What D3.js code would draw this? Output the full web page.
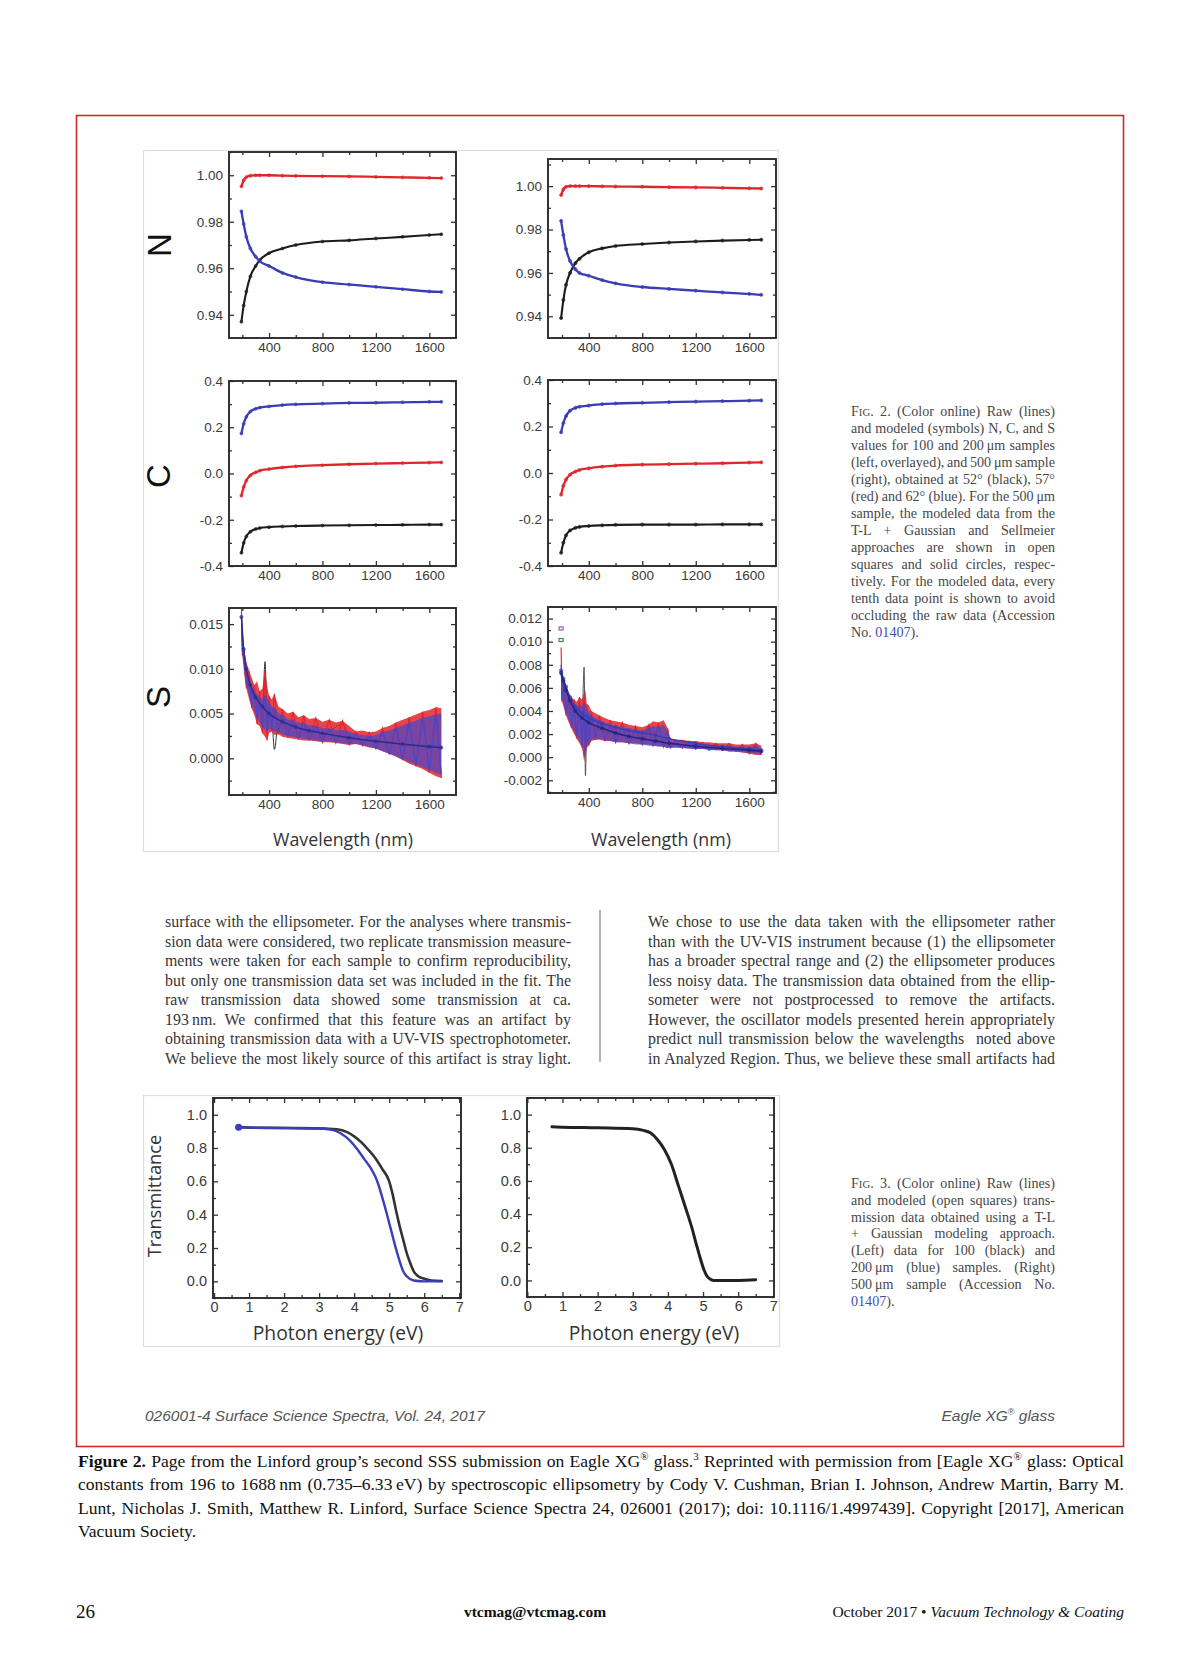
<!DOCTYPE html>
<html><head><meta charset="utf-8">
<script src="https://cdn.jsdelivr.net/npm/d3@7"></script>
<style>body{margin:0;background:#fff}svg{display:block}</style>
</head><body><svg id="c" width="1200" height="1657"></svg>
<script>
// ---------------- DATA ----------------
// wavelength grid (nm) for N and C curves
const wl = [193, 210, 230, 260, 300, 330, 400, 500, 600, 800, 1000, 1200, 1400, 1600, 1690];
// N, left (100 & 200 um overlayed)
const nLeftBlack = [0.937, 0.944, 0.950, 0.9565, 0.961, 0.9635, 0.9665, 0.9685, 0.970, 0.9715, 0.972, 0.9728, 0.9735, 0.9743, 0.9746];
const nLeftRed   = [0.9952, 0.9978, 0.9992, 0.9998, 1.000, 1.000, 1.000, 0.9998, 0.9997, 0.9996, 0.9995, 0.9993, 0.9991, 0.9989, 0.9988];
const nLeftBlue  = [0.9845, 0.979, 0.9735, 0.9685, 0.965, 0.963, 0.961, 0.958, 0.9562, 0.954, 0.953, 0.952, 0.951, 0.950, 0.9498];
// N, right (500 um)
const nRightBlack = [0.9392, 0.9475, 0.9545, 0.960, 0.9645, 0.9665, 0.9695, 0.9713, 0.9724, 0.9733, 0.974, 0.9745, 0.9749, 0.9752, 0.9753];
const nRightRed   = [0.9959, 0.9985, 0.9997, 1.000, 1.000, 1.000, 1.000, 0.9999, 0.9998, 0.9997, 0.9995, 0.9994, 0.9992, 0.999, 0.9989];
const nRightBlue  = [0.984, 0.9775, 0.971, 0.9655, 0.9617, 0.960, 0.9587, 0.9567, 0.9552, 0.9535, 0.9526, 0.9518, 0.951, 0.9503, 0.9499];
// C, left
const cLeftBlue  = [0.173, 0.215, 0.245, 0.268, 0.280, 0.285, 0.290, 0.296, 0.299, 0.302, 0.305, 0.306, 0.308, 0.310, 0.310];
const cLeftRed   = [-0.096, -0.058, -0.030, -0.008, 0.005, 0.012, 0.019, 0.026, 0.031, 0.036, 0.040, 0.043, 0.045, 0.047, 0.048];
const cLeftBlack = [-0.343, -0.300, -0.272, -0.252, -0.240, -0.236, -0.232, -0.229, -0.227, -0.225, -0.224, -0.223, -0.222, -0.221, -0.221];
// C, right
const cRightBlue  = [0.175, 0.215, 0.245, 0.268, 0.280, 0.285, 0.290, 0.296, 0.299, 0.302, 0.305, 0.307, 0.309, 0.311, 0.312];
const cRightRed   = [-0.093, -0.055, -0.028, -0.007, 0.006, 0.013, 0.020, 0.027, 0.032, 0.036, 0.038, 0.040, 0.042, 0.045, 0.046];
const cRightBlack = [-0.343, -0.300, -0.268, -0.247, -0.236, -0.232, -0.228, -0.225, -0.223, -0.222, -0.222, -0.222, -0.221, -0.221, -0.221];

// S, left: raw-data envelopes (noisy) and modeled curve
const sWlL = [193,200,215,230,250,270,290,310,330,350,370,385,400,420,440,470,500,540,580,620,660,700,750,800,850,900,950,1000,1050,1100,1150,1200,1250,1300,1350,1400,1450,1500,1550,1600,1650,1690];
const sLRedHi  = [0.0168,0.0150,0.0120,0.0108,0.0098,0.0090,0.0082,0.0086,0.0075,0.0078,0.0098,0.0082,0.0070,0.0066,0.0072,0.0058,0.0055,0.0050,0.0052,0.0046,0.0048,0.0044,0.0045,0.0041,0.0043,0.0040,0.0042,0.0036,0.0030,0.0031,0.0029,0.0030,0.0034,0.0036,0.0040,0.0043,0.0046,0.0049,0.0052,0.0054,0.0057,0.0056];
const sLRedLo  = [0.0140,0.0115,0.0092,0.0078,0.0066,0.0056,0.0048,0.0038,0.0036,0.0028,0.0024,0.0020,0.0028,0.0030,0.0026,0.0027,0.0024,0.0023,0.0022,0.0021,0.0020,0.0020,0.0019,0.0018,0.0018,0.0017,0.0016,0.0015,0.0016,0.0014,0.0012,0.0011,0.0008,0.0005,0.0002,-0.0002,-0.0006,-0.0009,-0.0012,-0.0016,-0.0020,-0.0022];
const sLBlueHi = [0.0160,0.0140,0.0112,0.0100,0.0090,0.0082,0.0075,0.0072,0.0068,0.0066,0.0070,0.0068,0.0062,0.0058,0.0056,0.0050,0.0048,0.0044,0.0042,0.0040,0.0039,0.0037,0.0036,0.0034,0.0033,0.0032,0.0031,0.0030,0.0027,0.0026,0.0025,0.0026,0.0029,0.0031,0.0034,0.0037,0.0040,0.0042,0.0045,0.0047,0.0049,0.0050];
const sLBlueLo = [0.0145,0.0120,0.0096,0.0082,0.0070,0.0060,0.0052,0.0045,0.0040,0.0035,0.0032,0.0030,0.0033,0.0032,0.0030,0.0029,0.0027,0.0025,0.0024,0.0023,0.0022,0.0021,0.0020,0.0019,0.0019,0.0018,0.0017,0.0016,0.0016,0.0015,0.0013,0.0011,0.0008,0.0005,0.0002,-0.0001,-0.0004,-0.0007,-0.0010,-0.0013,-0.0016,-0.0018];
const sLBlack  = [0.0160,0.0130,0.0105,0.0090,0.0080,0.0072,0.0066,0.0060,0.0056,0.0052,0.0108,0.0050,0.0046,0.0044,0.0010,0.0040,0.0038,0.0036,0.0034,0.0033,0.0031,0.0030,0.0029,0.0028,0.0030,0.0035,0.0038,0.0026,0.0022,0.0021,0.0020,0.0019,0.0018,0.0018,0.0017,0.0016,0.0016,0.0015,0.0015,0.0014,0.0014,0.0013];
const sModWlL = [193, 210, 230, 260, 300, 350, 400, 500, 600, 700, 800, 1000, 1200, 1400, 1600, 1690];
const sLModel = [0.0158, 0.0122, 0.0100, 0.0082, 0.0068, 0.0058, 0.0050, 0.0041, 0.0035, 0.0031, 0.0028, 0.0023, 0.0019, 0.0016, 0.0013, 0.0012];

// S, right
const sWlR = [193,200,215,230,250,270,290,310,330,350,365,375,385,400,420,450,480,520,560,600,650,700,750,800,850,880,920,960,990,1010,1050,1100,1150,1200,1250,1300,1350,1400,1450,1500,1550,1600,1650,1690];
const sRRedHi  = [0.0095,0.0072,0.0065,0.0060,0.0055,0.0052,0.0050,0.0048,0.0052,0.0050,0.0055,0.0058,0.0046,0.0045,0.0040,0.0038,0.0036,0.0034,0.0032,0.0031,0.0030,0.0028,0.0027,0.0026,0.0028,0.0031,0.0030,0.0032,0.0025,0.0016,0.0015,0.0015,0.0014,0.0014,0.0013,0.0013,0.0012,0.0012,0.0012,0.0011,0.0011,0.0011,0.0012,0.0010];
const sRRedLo  = [0.0050,0.0048,0.0042,0.0036,0.0030,0.0025,0.0020,0.0016,0.0012,0.0008,-0.0004,0.0002,0.0008,0.0010,0.0014,0.0015,0.0015,0.0014,0.0014,0.0013,0.0013,0.0012,0.0012,0.0011,0.0011,0.0010,0.0010,0.0009,0.0008,0.0009,0.0009,0.0008,0.0008,0.0007,0.0007,0.0007,0.0006,0.0006,0.0005,0.0005,0.0004,0.0003,0.0002,0.0002];
const sRBlueHi = [0.0080,0.0068,0.0060,0.0055,0.0050,0.0047,0.0045,0.0043,0.0045,0.0044,0.0046,0.0048,0.0040,0.0040,0.0036,0.0034,0.0032,0.0030,0.0028,0.0027,0.0026,0.0025,0.0024,0.0023,0.0025,0.0027,0.0026,0.0028,0.0022,0.0014,0.0013,0.0013,0.0012,0.0012,0.0011,0.0011,0.0010,0.0010,0.0010,0.0009,0.0009,0.0009,0.0010,0.0008];
const sRBlueLo = [0.0055,0.0050,0.0044,0.0038,0.0032,0.0027,0.0022,0.0018,0.0014,0.0010,0.0000,0.0004,0.0010,0.0012,0.0015,0.0016,0.0016,0.0015,0.0014,0.0013,0.0013,0.0012,0.0011,0.0011,0.0010,0.0010,0.0009,0.0009,0.0008,0.0008,0.0008,0.0008,0.0007,0.0007,0.0007,0.0006,0.0006,0.0006,0.0005,0.0005,0.0004,0.0004,0.0003,0.0003];
const sRBlack  = [0.0072,0.0065,0.0058,0.0052,0.0046,0.0042,0.0039,0.0036,0.0034,0.0033,0.0078,-0.0016,0.0030,0.0029,0.0027,0.0025,0.0024,0.0022,0.0021,0.0020,0.0019,0.0018,0.0017,0.0016,0.0028,0.0012,0.0015,0.0014,0.0013,0.0012,0.0012,0.0011,0.0011,0.0010,0.0010,0.0009,0.0009,0.0008,0.0008,0.0008,0.0007,0.0007,0.0007,0.0006];
const sModWlR = [193, 210, 230, 260, 300, 350, 400, 500, 600, 700, 800, 900, 1000, 1200, 1400, 1600, 1690];
const sRSellmeier = [0.0073, 0.0066, 0.0058, 0.0049, 0.0040, 0.0034, 0.0030, 0.0025, 0.0021, 0.0018, 0.0016, 0.0014, 0.0012, 0.00095, 0.00075, 0.0006, 0.0005];
const sRTLG       = [0.0075, 0.0068, 0.0061, 0.0052, 0.0044, 0.0038, 0.0034, 0.0029, 0.0026, 0.0023, 0.0021, 0.0019, 0.0016, 0.0012, 0.0009, 0.0007, 0.0006];
const sROutliers = [[193, 0.0111, "#9a5aa8"], [193, 0.0101, "#3d8a5a"]];

// Transmittance
const tEnK = [0.7, 1.0, 2.0, 3.0, 3.5, 3.8, 4.0, 4.2, 4.4, 4.6, 4.8, 5.0, 5.1, 5.2, 5.3, 5.4, 5.5, 5.6, 5.7, 5.8, 6.0, 6.2, 6.5];
const tBlack100 = [0.925, 0.922, 0.920, 0.918, 0.912, 0.895, 0.870, 0.835, 0.790, 0.740, 0.675, 0.600, 0.520, 0.420, 0.330, 0.250, 0.170, 0.110, 0.060, 0.035, 0.015, 0.005, 0.002];
const tEnB = [0.7, 1.0, 2.0, 3.0, 3.3, 3.6, 3.9, 4.1, 4.3, 4.5, 4.6, 4.7, 4.8, 4.9, 5.0, 5.1, 5.2, 5.3, 5.4, 5.5, 5.7, 6.0, 6.5];
const tBlue200 = [0.925, 0.922, 0.920, 0.917, 0.912, 0.890, 0.840, 0.790, 0.730, 0.670, 0.630, 0.575, 0.505, 0.430, 0.350, 0.270, 0.190, 0.120, 0.060, 0.030, 0.005, 0.000, 0.000];
const tEnR = [0.7, 1.0, 2.0, 3.0, 3.3, 3.5, 3.7, 3.9, 4.1, 4.3, 4.5, 4.7, 4.8, 4.9, 5.0, 5.1, 5.2, 5.3, 5.5, 6.0, 6.5];
const tBlack500 = [0.926, 0.924, 0.920, 0.915, 0.905, 0.890, 0.850, 0.790, 0.700, 0.570, 0.440, 0.305, 0.225, 0.150, 0.080, 0.030, 0.008, 0.000, 0.000, 0.000, 0.004];

// Tick labels
const wlTicks = [400, 800, 1200, 1600], wlMinor = [200, 600, 1000, 1400];
const nTicks = [0.94, 0.96, 0.98, 1.00], nMinor = [0.95, 0.97, 0.99, 1.01];
const cTicks = [-0.4, -0.2, 0.0, 0.2, 0.4], cMinor = [-0.3, -0.1, 0.1, 0.3];
const sLTicks = [0.000, 0.005, 0.010, 0.015], sLMinor = [-0.0025, 0.0025, 0.0075, 0.0125];
const sRTicks = [-0.002, 0.000, 0.002, 0.004, 0.006, 0.008, 0.010, 0.012], sRMinor = [-0.003, -0.001, 0.001, 0.003, 0.005, 0.007, 0.009, 0.011];
const eTicks = [0, 1, 2, 3, 4, 5, 6, 7], eMinor = [0.5, 1.5, 2.5, 3.5, 4.5, 5.5, 6.5];
const tTicks = [0.0, 0.2, 0.4, 0.6, 0.8, 1.0], tMinor = [-0.1, 0.1, 0.3, 0.5, 0.7, 0.9, 1.1];

// ---------------- DRAW ----------------
const svg = d3.select('#c');
const RED = '#e0252b', BLUE = '#3a3cb4', BLACK = '#1c1c1c';
const SANS = "'Liberation Sans', Arial, sans-serif";
const SERIF = "'Liberation Serif', 'Times New Roman', serif";
const OPEN = "'Open Sans', 'Noto Sans', sans-serif";

svg.append('rect').attr('width', 1200).attr('height', 1657).attr('fill', '#fff');
svg.append('rect').attr('x', 76.5).attr('y', 115.5).attr('width', 1047).attr('height', 1331)
  .attr('fill', 'none').attr('stroke', '#cc2b2b').attr('stroke-width', 1.6);
svg.append('rect').attr('x', 143.5).attr('y', 150.5).attr('width', 635).attr('height', 701)
  .attr('fill', 'none').attr('stroke', '#dedede').attr('stroke-width', 1.2);
svg.append('rect').attr('x', 143.5).attr('y', 1095.5).attr('width', 636).attr('height', 251)
  .attr('fill', 'none').attr('stroke', '#dedede').attr('stroke-width', 1.2);

let clipN = 0;
function panel(o) {
  const x = d3.scaleLinear().domain(o.xd).range([o.x0, o.x1]);
  const y = d3.scaleLinear().domain(o.yd).range([o.y1, o.y0]);
  const id = 'clip' + (clipN++);
  svg.append('clipPath').attr('id', id).append('rect')
    .attr('x', o.x0).attr('y', o.y0).attr('width', o.x1 - o.x0).attr('height', o.y1 - o.y0);
  const g = svg.append('g').attr('clip-path', `url(#${id})`);
  const inX = v => v >= o.xd[0] - 1e-9 && v <= o.xd[1] + 1e-9;
  const inY = v => v >= o.yd[0] - 1e-9 && v <= o.yd[1] + 1e-9;
  const deco = svg.append('g');
  const fs = o.fs || 13.5;
  function ax(axis, tr, vals, size, fmt, pad) {
    const a = deco.append('g').attr('transform', tr)
      .call(axis.tickValues(vals).tickSize(-size).tickPadding(pad || 0).tickFormat(fmt || (() => '')));
    a.select('.domain').remove();
    a.selectAll('line').attr('stroke', '#333').attr('stroke-width', 1.3);
    a.attr('font-family', SANS).attr('font-size', fs);
    a.selectAll('text').attr('fill', '#3a3a3a');
    return a;
  }
  const xM = o.xT.filter(inX), xm = o.xm.filter(inX), yM = o.yT.filter(inY), ym = o.ym.filter(inY);
  ax(d3.axisBottom(x), `translate(0,${o.y1})`, xM, 5, o.xf, o.xpad || 4.5);
  ax(d3.axisBottom(x), `translate(0,${o.y1})`, xm, 3);
  ax(d3.axisTop(x), `translate(0,${o.y0})`, xM, 5);
  ax(d3.axisTop(x), `translate(0,${o.y0})`, xm, 3);
  ax(d3.axisLeft(y), `translate(${o.x0},0)`, yM, 5, o.yf, 6);
  ax(d3.axisLeft(y), `translate(${o.x0},0)`, ym, 3);
  ax(d3.axisRight(y), `translate(${o.x1},0)`, yM, 5);
  ax(d3.axisRight(y), `translate(${o.x1},0)`, ym, 3);
  deco.append('rect').attr('x', o.x0).attr('y', o.y0).attr('width', o.x1 - o.x0).attr('height', o.y1 - o.y0)
    .attr('fill', 'none').attr('stroke', '#2a2a2a').attr('stroke-width', 1.9);
  return { x, y, g };
}

function curve(p, xs, ys, color, w, dots, r) {
  const pts = xs.map((v, i) => [v, ys[i]]);
  p.g.append('path').datum(pts).attr('fill', 'none').attr('stroke', color).attr('stroke-width', w)
    .attr('stroke-linejoin', 'round').attr('stroke-linecap', 'round')
    .attr('d', d3.line().x(d => p.x(d[0])).y(d => p.y(d[1])).curve(d3.curveMonotoneX));
  if (dots) {
    p.g.selectAll(null).data(pts).enter().append('circle')
      .attr('cx', d => p.x(d[0])).attr('cy', d => p.y(d[1])).attr('r', r || 1.8)
      .attr('fill', color).attr('stroke', color).attr('stroke-width', 0.6).attr('fill-opacity', 0.6);
  }
}
function band(p, xs, lo, hi, color, op) {
  const pts = xs.map((v, i) => [v, lo[i], hi[i]]);
  p.g.append('path').datum(pts).attr('fill', color).attr('fill-opacity', op)
    .attr('d', d3.area().x(d => p.x(d[0])).y0(d => p.y(d[1])).y1(d => p.y(d[2])));
  // jagged raw trace zig-zagging between the envelope values
  const zz = pts.map((d, i) => [d[0], i % 2 ? d[1] : d[2]]);
  p.g.append('path').datum(zz).attr('fill', 'none').attr('stroke', color).attr('stroke-width', 1.1)
    .attr('d', d3.line().x(d => p.x(d[0])).y(d => p.y(d[1])));
}

const f2 = v => v.toFixed(2), f1 = v => v.toFixed(1), f3 = v => v.toFixed(3), f0 = v => String(v);

const XL = [229, 456], XR = [548, 776];
const DL = [100, 1800], DR = [95, 1800];

// N panels
const pNL = panel({ x0: XL[0], x1: XL[1], y0: 152, y1: 338, xd: DL, yd: [0.93, 1.01],
  xT: wlTicks, xm: wlMinor, yT: nTicks, ym: nMinor, xf: f0, yf: f2 });
curve(pNL, wl, nLeftRed, RED, 2.3, true, 1.5);
curve(pNL, wl, nLeftBlack, BLACK, 2.1, true, 1.5);
curve(pNL, wl, nLeftBlue, BLUE, 2.3, true, 1.5);

const pNR = panel({ x0: XR[0], x1: XR[1], y0: 159, y1: 338, xd: DR, yd: [0.93, 1.0125],
  xT: wlTicks, xm: wlMinor, yT: nTicks, ym: nMinor, xf: f0, yf: f2 });
curve(pNR, wl, nRightRed, RED, 2.3, true, 1.6);
curve(pNR, wl, nRightBlack, BLACK, 2.1, true, 1.6);
curve(pNR, wl, nRightBlue, BLUE, 2.3, true, 1.6);

// C panels
const pCL = panel({ x0: XL[0], x1: XL[1], y0: 381, y1: 566, xd: DL, yd: [-0.4, 0.4],
  xT: wlTicks, xm: wlMinor, yT: cTicks, ym: cMinor, xf: f0, yf: f1 });
curve(pCL, wl, cLeftBlue, BLUE, 2.3, true, 1.5);
curve(pCL, wl, cLeftRed, RED, 2.3, true, 1.5);
curve(pCL, wl, cLeftBlack, BLACK, 2.1, true, 1.5);

const pCR = panel({ x0: XR[0], x1: XR[1], y0: 380, y1: 566, xd: DR, yd: [-0.4, 0.4],
  xT: wlTicks, xm: wlMinor, yT: cTicks, ym: cMinor, xf: f0, yf: f1 });
curve(pCR, wl, cRightBlue, BLUE, 2.3, true, 1.6);
curve(pCR, wl, cRightRed, RED, 2.3, true, 1.6);
curve(pCR, wl, cRightBlack, BLACK, 2.1, true, 1.6);

// S panels
const pSL = panel({ x0: XL[0], x1: XL[1], y0: 608, y1: 795, xd: DL, yd: [-0.0041, 0.0168],
  xT: wlTicks, xm: wlMinor, yT: sLTicks, ym: sLMinor, xf: f0, yf: f3 });
curve(pSL, sWlL, sLBlack, '#333', 1.0, false);
band(pSL, sWlL, sLRedLo, sLRedHi, RED, 0.85);
band(pSL, sWlL, sLBlueLo, sLBlueHi, '#4a46c8', 0.7);
curve(pSL, sModWlL, sLModel, '#2b2d8e', 1.5, true, 1.6);

const pSR = panel({ x0: XR[0], x1: XR[1], y0: 607, y1: 793, xd: DR, yd: [-0.0031, 0.013],
  xT: wlTicks, xm: wlMinor, yT: sRTicks, ym: sRMinor, xf: f0, yf: f3 });
curve(pSR, sWlR, sRBlack, '#555', 1.0, false);
band(pSR, sWlR, sRRedLo, sRRedHi, RED, 0.85);
band(pSR, sWlR, sRBlueLo, sRBlueHi, '#4a46c8', 0.7);
curve(pSR, sModWlR, sRTLG, '#3a3cb4', 1.4, true, 1.7);
curve(pSR, sModWlR, sRSellmeier, '#23257e', 1.5, true, 1.7);
pSR.g.selectAll(null).data(sROutliers).enter().append('rect')
  .attr('x', d => pSR.x(d[0]) - 2).attr('y', d => pSR.y(d[1]) - 2).attr('width', 4).attr('height', 3)
  .attr('fill', 'none').attr('stroke', d => d[2]).attr('stroke-width', 1.2);

// Transmittance panels
const pTL = panel({ x0: 213, x1: 461, y0: 1098, y1: 1298, xd: [-0.03, 7.05], yd: [-0.1, 1.1],
  xT: eTicks, xm: eMinor, yT: tTicks, ym: tMinor, xf: f0, yf: f1, fs: 14.5, xpad: 4 });
curve(pTL, tEnK, tBlack100, '#333', 2.6, false);
curve(pTL, tEnB, tBlue200, '#3c3db8', 2.4, false);
pTL.g.append('circle').attr('cx', pTL.x(tEnB[0])).attr('cy', pTL.y(tBlue200[0])).attr('r', 3.5).attr('fill', '#3c3db8');

const pTR = panel({ x0: 527, x1: 774, y0: 1098, y1: 1297, xd: [-0.01, 7.02], yd: [-0.1, 1.1],
  xT: eTicks, xm: eMinor, yT: tTicks, ym: tMinor, xf: f0, yf: f1, fs: 14.5, xpad: 4 });
curve(pTR, tEnR, tBlack500, '#222', 3.0, false);

// axis titles
function rotLabel(x, y, txt, size, fam, fill) {
  svg.append('text').attr('transform', `translate(${x},${y}) rotate(-90)`).attr('text-anchor', 'middle')
    .attr('dominant-baseline', 'central').attr('font-family', fam).attr('font-size', size).attr('fill', fill).text(txt);
}
rotLabel(159, 245, 'N', 33, SANS, '#111');
rotLabel(158, 476, 'C', 33, SANS, '#111');
rotLabel(158, 697, 'S', 33, SANS, '#111');
rotLabel(153, 1196, 'Transmittance', 18.3, OPEN, '#333');
function label(x, y, txt, o) {
  o = o || {};
  const t = svg.append('text').attr('x', x).attr('y', y).attr('text-anchor', o.anchor || 'middle')
    .attr('font-family', o.fam || OPEN).attr('font-size', o.size || 16.5).attr('fill', o.fill || '#333').text(txt);
  if (o.style) t.attr('font-style', o.style);
  if (o.weight) t.attr('font-weight', o.weight);
  return t;
}
label(343, 846, 'Wavelength (nm)', { size: 17.8 });
label(661, 846, 'Wavelength (nm)', { size: 17.8 });
label(338, 1340, 'Photon energy (eV)', { size: 19.3 });
label(654, 1340, 'Photon energy (eV)', { size: 19.3 });

// justified text helper: stretches word spacing so each line spans the column
function para(x, y0, w, lh, lines, o) {
  lines.forEach((segs, i) => {
    if (typeof segs === 'string') segs = [{ t: segs }];
    const t = svg.append('text').attr('x', x).attr('y', y0 + i * lh)
      .attr('font-family', o.fam || SERIF).attr('font-size', o.size).attr('fill', o.fill || '#333')
      .attr('xml:space', 'preserve');
    let shift = 0;
    segs.forEach(s => {
      const ts = t.append('tspan').text(s.t);
      if (s.sc) ts.attr('font-size', o.size * 0.76);
      if (s.c) ts.attr('fill', s.c);
      if (s.b) ts.attr('font-weight', 'bold');
      if (s.sup) { ts.attr('font-size', o.size * 0.62).attr('dy', -o.size * 0.38); shift = o.size * 0.38; }
      else if (shift) { ts.attr('dy', shift); shift = 0; }
    });
    const last = i === lines.length - 1;
    if (!(last && o.lastLeft)) {
      const full = segs.map(s => s.t).join('');
      const spaces = (full.match(/ /g) || []).length;
      const natural = t.node().getComputedTextLength();
      if (spaces > 0) t.attr('word-spacing', (w - natural) / spaces);
    }
  });
}

para(165, 927, 406, 19.5, [
  'surface with the ellipsometer. For the analyses where transmis-',
  'sion data were considered, two replicate transmission measure-',
  'ments were taken for each sample to confirm reproducibility,',
  'but only one transmission data set was included in the fit. The',
  'raw transmission data showed some transmission at ca.',
  '193\u2009nm. We confirmed that this feature was an artifact by',
  'obtaining transmission data with a UV-VIS spectrophotometer.',
  'We believe the most likely source of this artifact is stray light.'
], { size: 15.9, fill: '#363636' });
para(648, 927, 407, 19.5, [
  'We chose to use the data taken with the ellipsometer rather',
  'than with the UV-VIS instrument because (1) the ellipsometer',
  'has a broader spectral range and (2) the ellipsometer produces',
  'less noisy data. The transmission data obtained from the ellip-',
  'someter were not postprocessed to remove the artifacts.',
  'However, the oscillator models presented herein appropriately',
  'predict null transmission below the wavelengths  noted above',
  'in Analyzed Region. Thus, we believe these small artifacts had'
], { size: 15.9, fill: '#363636' });
svg.append('line').attr('x1', 600).attr('x2', 600).attr('y1', 910).attr('y2', 1062)
  .attr('stroke', '#9a9a9a').attr('stroke-width', 1.5);

const BL = '#3b50b0';
para(851, 416, 204, 17, [
  [{ t: 'F' }, { t: 'IG', sc: true }, { t: '. 2. (Color online) Raw (lines)' }],
  'and modeled (symbols) N, C, and S',
  'values for 100 and 200\u2009\u03bcm samples',
  '(left, overlayed), and 500\u2009\u03bcm sample',
  '(right), obtained at 52\u00b0 (black), 57\u00b0',
  '(red) and 62\u00b0 (blue). For the 500\u2009\u03bcm',
  'sample, the modeled data from the',
  'T-L + Gaussian and Sellmeier',
  'approaches are shown in open',
  'squares and solid circles, respec-',
  'tively. For the modeled data, every',
  'tenth data point is shown to avoid',
  'occluding the raw data (Accession',
  [{ t: 'No. ' }, { t: '01407', c: BL }, { t: ').' }]
], { size: 14.1, fill: '#474747', lastLeft: true });

para(851, 1188, 204, 16.8, [
  [{ t: 'F' }, { t: 'IG', sc: true }, { t: '. 3. (Color online) Raw (lines)' }],
  'and modeled (open squares) trans-',
  'mission data obtained using a T-L',
  '+ Gaussian modeling approach.',
  '(Left) data for 100 (black) and',
  '200\u2009\u03bcm (blue) samples. (Right)',
  '500\u2009\u03bcm sample (Accession No.',
  [{ t: '01407', c: BL }, { t: ').' }]
], { size: 14.1, fill: '#474747', lastLeft: true });

// journal footer inside the border
label(145, 1421, '026001-4   Surface Science Spectra, Vol. 24, 2017', { anchor: 'start', fam: SANS, size: 15.5, fill: '#555', style: 'italic' });
const eg = label(1055, 1421, '', { anchor: 'end', fam: SANS, size: 15.5, fill: '#555', style: 'italic' });
eg.append('tspan').text('Eagle XG');
eg.append('tspan').attr('font-size', 9).attr('dy', -6).text('\u00ae');
eg.append('tspan').attr('dy', 6).text(' glass');

// figure caption
para(78, 1467, 1046, 23.3, [
  [{ t: 'Figure 2.', b: true }, { t: ' Page from the Linford group\u2019s second SSS submission on Eagle XG' }, { t: '\u00ae', sup: true },
   { t: ' glass.' }, { t: '3', sup: true }, { t: ' Reprinted with permission from [Eagle XG' }, { t: '\u00ae', sup: true }, { t: ' glass: Optical' }],
  'constants from 196 to 1688\u2009nm (0.735\u20136.33\u2009eV) by spectroscopic ellipsometry by Cody V. Cushman, Brian I. Johnson, Andrew Martin, Barry M.',
  'Lunt, Nicholas J. Smith, Matthew R. Linford, Surface Science Spectra 24, 026001 (2017); doi: 10.1116/1.4997439]. Copyright [2017], American',
  'Vacuum Society.'
], { size: 17.6, fill: '#111', lastLeft: true });

// page footer
label(76, 1618, '26', { anchor: 'start', fam: SERIF, size: 19, fill: '#111' });
label(535, 1617, 'vtcmag@vtcmag.com', { fam: SERIF, size: 15.5, fill: '#111', weight: 'bold' });
const rf = label(1124, 1617, '', { anchor: 'end', fam: SERIF, size: 15.5, fill: '#111' });
rf.append('tspan').text('October 2017 \u2022 ');
rf.append('tspan').attr('font-style', 'italic').text('Vacuum Technology & Coating');
</script></body></html>
